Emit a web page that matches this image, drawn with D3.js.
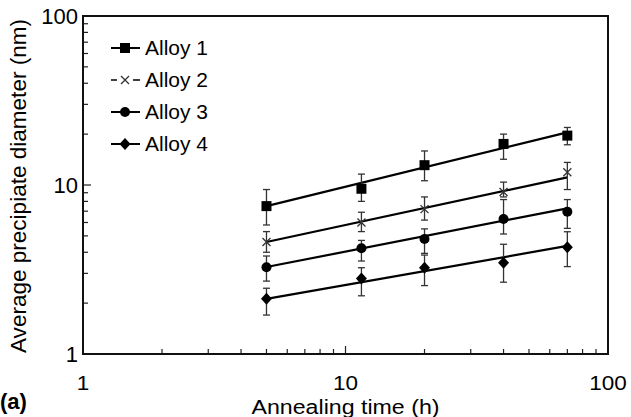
<!DOCTYPE html>
<html><head><meta charset="utf-8">
<script src="https://cdn.jsdelivr.net/npm/d3@7"></script>
<style>body{margin:0;background:#fff}svg{display:block}text{font-family:Arial,"Liberation Sans",sans-serif;fill:#000}</style>
</head><body>
<svg id="c" width="631" height="417"></svg>
<script>
const times = [5, 11.5, 20, 40, 70];
const seriesNames = ["Alloy 1", "Alloy 2", "Alloy 3", "Alloy 4"];
const alloy1 = [7.5, 9.5, 13.1, 17.5, 19.6];
const alloy1Hi = [9.4, 11.6, 15.9, 20.0, 21.9];
const alloy1Lo = [5.8, 8.0, 10.6, 14.2, 17.3];
const alloy2 = [4.6, 6.0, 7.2, 9.1, 11.9];
const alloy2Hi = [5.3, 6.9, 8.5, 10.4, 13.6];
const alloy2Lo = [4.0, 5.3, 6.2, 8.5, 9.4];
const alloy3 = [3.26, 4.22, 4.79, 6.29, 6.95];
const alloy3Hi = [3.8, 4.7, 5.5, 8.2, 8.2];
const alloy3Lo = [2.7, 3.55, 3.94, 5.13, 5.54];
const alloy4 = [2.12, 2.8, 3.24, 3.47, 4.28];
const alloy4Hi = [2.45, 3.24, 3.85, 4.46, 5.29];
const alloy4Lo = [1.70, 2.21, 2.54, 2.66, 3.29];
const fitTimes = [5, 70];
const fit1 = [7.5, 20.5];
const fit2 = [4.6, 11.1];
const fit3 = [3.27, 7.28];
const fit4 = [2.12, 4.36];
const xTickLabels = ["1", "10", "100"];
const yTickLabels = ["1", "10", "100"];
const markers = ["square", "cross", "circle", "diamond"];

const series = [
  {name: seriesNames[0], v: alloy1, hi: alloy1Hi, lo: alloy1Lo, fit: fit1, m: markers[0]},
  {name: seriesNames[1], v: alloy2, hi: alloy2Hi, lo: alloy2Lo, fit: fit2, m: markers[1]},
  {name: seriesNames[2], v: alloy3, hi: alloy3Hi, lo: alloy3Lo, fit: fit3, m: markers[2]},
  {name: seriesNames[3], v: alloy4, hi: alloy4Hi, lo: alloy4Lo, fit: fit4, m: markers[3]}
];

const svg = d3.select("#c");
const L = 83, R = 608, T = 16, B = 354;
const x = d3.scaleLog().domain([1, 100]).range([L, R]);
const y = d3.scaleLog().domain([1, 100]).range([B, T]);

// minor ticks
const minorVals = [];
[1, 10].forEach(d => { for (let k = 2; k <= 9; k++) minorVals.push(d * k); });
const g = svg.append("g");
g.selectAll(".xm").data(minorVals).join("line")
  .attr("x1", d => x(d)).attr("x2", d => x(d)).attr("y1", B).attr("y2", B - 5)
  .attr("stroke", "#222").attr("stroke-width", 1.2);
g.selectAll(".xM").data([10]).join("line")
  .attr("x1", d => x(d)).attr("x2", d => x(d)).attr("y1", B).attr("y2", B - 8)
  .attr("stroke", "#222").attr("stroke-width", 1.2);
g.selectAll(".ym").data(minorVals).join("line")
  .attr("y1", d => y(d)).attr("y2", d => y(d)).attr("x1", L).attr("x2", L + 5)
  .attr("stroke", "#222").attr("stroke-width", 1.2);
g.selectAll(".yM").data([10]).join("line")
  .attr("y1", d => y(d)).attr("y2", d => y(d)).attr("x1", L).attr("x2", L + 8)
  .attr("stroke", "#222").attr("stroke-width", 1.2);

// frame
svg.append("rect").attr("x", L).attr("y", T).attr("width", R - L).attr("height", B - T)
  .attr("fill", "none").attr("stroke", "#111").attr("stroke-width", 2);

// tick labels
svg.selectAll(".xl").data([1, 10, 100]).join("text")
  .attr("x", d => x(d)).attr("y", 390).attr("text-anchor", "middle")
  .attr("font-size", 21).attr("textLength", (d, i) => xTickLabels[i].length * 12.5)
  .attr("lengthAdjust", "spacingAndGlyphs").text((d, i) => xTickLabels[i]);
svg.selectAll(".yl").data([1, 10, 100]).join("text")
  .attr("x", 78).attr("y", d => y(d) + 8).attr("text-anchor", "end")
  .attr("font-size", 22).text((d, i) => yTickLabels[i]);

// axis titles
svg.append("text").attr("x", x(10)).attr("y", 414).attr("text-anchor", "middle")
  .attr("font-size", 20).attr("textLength", 188).attr("lengthAdjust", "spacingAndGlyphs")
  .text("Annealing time (h)");
svg.append("text").attr("transform", `translate(26,${(T + B) / 2 + 1}) rotate(-90)`)
  .attr("text-anchor", "middle").attr("font-size", 22)
  .attr("textLength", 334).attr("lengthAdjust", "spacingAndGlyphs")
  .text("Average precipiate diameter (nm)");
svg.append("text").attr("x", 0).attr("y", 409).attr("font-size", 22)
  .attr("font-weight", "bold").text("(a)");

// fit lines
const line = d3.line().x(d => x(d[0])).y(d => y(d[1]));
series.forEach(s => {
  svg.append("path").attr("d", line(fitTimes.map((t, i) => [t, s.fit[i]])))
    .attr("fill", "none").attr("stroke", "#000").attr("stroke-width", 2.2);
});

// error bars
series.forEach(s => {
  const eg = svg.append("g").attr("stroke", "#333").attr("stroke-width", 1.3);
  times.forEach((t, i) => {
    const cx = x(t);
    eg.append("line").attr("x1", cx).attr("x2", cx).attr("y1", y(s.hi[i])).attr("y2", y(s.lo[i]));
    eg.append("line").attr("x1", cx - 3.5).attr("x2", cx + 3.5).attr("y1", y(s.hi[i])).attr("y2", y(s.hi[i]));
    eg.append("line").attr("x1", cx - 3.5).attr("x2", cx + 3.5).attr("y1", y(s.lo[i])).attr("y2", y(s.lo[i]));
  });
});

function marker(sel, type, cx, cy) {
  if (type === "square") {
    sel.append("rect").attr("x", cx - 5).attr("y", cy - 5).attr("width", 10).attr("height", 10).attr("fill", "#000");
  } else if (type === "cross") {
    sel.append("path").attr("d", `M${cx-4},${cy-4}L${cx+4},${cy+4}M${cx-4},${cy+4}L${cx+4},${cy-4}`)
      .attr("stroke", "#333").attr("stroke-width", 1.3).attr("fill", "none");
  } else if (type === "circle") {
    sel.append("circle").attr("cx", cx).attr("cy", cy).attr("r", 5).attr("fill", "#000");
  } else {
    sel.append("path").attr("d", `M${cx},${cy-6}L${cx+5.5},${cy}L${cx},${cy+6}L${cx-5.5},${cy}Z`).attr("fill", "#000");
  }
}

series.forEach(s => {
  const mg = svg.append("g");
  times.forEach((t, i) => marker(mg, s.m, x(t), y(s.v[i])));
});

// legend
const legY = [48, 80, 112, 144];
series.forEach((s, i) => {
  const lg = svg.append("g");
  const yy = legY[i];
  if (s.m === "cross") {
    lg.append("line").attr("x1", 111).attr("x2", 117).attr("y1", yy).attr("y2", yy).attr("stroke", "#000").attr("stroke-width", 1.5);
    lg.append("line").attr("x1", 133).attr("x2", 140).attr("y1", yy).attr("y2", yy).attr("stroke", "#000").attr("stroke-width", 1.5);
  } else {
    lg.append("line").attr("x1", 111).attr("x2", 140).attr("y1", yy).attr("y2", yy).attr("stroke", "#000").attr("stroke-width", 2);
  }
  marker(lg, s.m, 125, yy);
  lg.append("text").attr("x", 145).attr("y", yy + 7).attr("font-size", 21)
    .attr("textLength", 63).attr("lengthAdjust", "spacingAndGlyphs").text(s.name);
});
</script>
</body></html>
